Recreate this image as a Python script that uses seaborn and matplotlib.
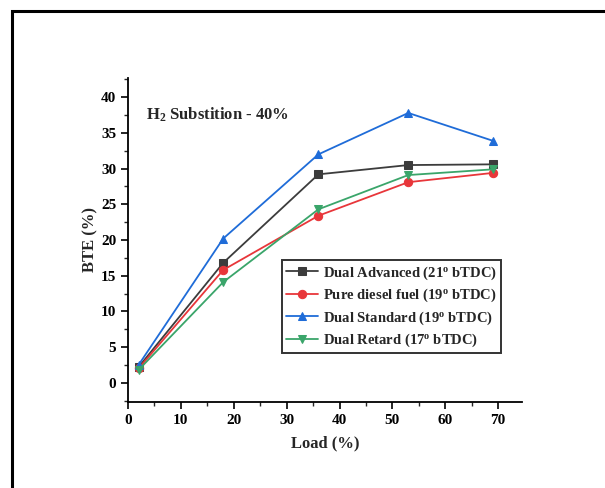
import numpy as np
import pandas as pd
import matplotlib
matplotlib.use('Agg')
import matplotlib.pyplot as plt
import seaborn as sns
from matplotlib.ticker import MultipleLocator
from matplotlib.patches import Rectangle

# data
load = [2, 18, 36, 53, 69]
dual_advanced = [2.2, 16.8, 29.2, 30.5, 30.6]
pure_diesel = [2.0, 15.8, 23.4, 28.1, 29.4]
dual_standard = [2.5, 20.2, 32.0, 37.8, 33.9]
dual_retard = [1.8, 14.1, 24.3, 29.1, 29.9]

labels = ['Dual Advanced (21$^{\\mathbf{o}}$ bTDC)',
          'Pure diesel fuel (19$^{\\mathbf{o}}$ bTDC)',
          'Dual Standard (19$^{\\mathbf{o}}$ bTDC)',
          'Dual Retard (17$^{\\mathbf{o}}$ bTDC)']
series = [dual_advanced, pure_diesel, dual_standard, dual_retard]
colors = ['#3c3c3c', '#e8363a', '#1f6cd8', '#3aa56a']
markers = ['s', 'o', '^', 'v']

sns.set_style('ticks')
plt.rcParams['font.family'] = ['Liberation Serif', 'DejaVu Serif']
plt.rcParams['font.weight'] = 'bold'
plt.rcParams['mathtext.fontset'] = 'custom'
plt.rcParams['mathtext.rm'] = 'Liberation Serif:bold'
plt.rcParams['mathtext.bf'] = 'Liberation Serif:bold'
plt.rcParams['mathtext.it'] = 'Liberation Serif:bold'

fig = plt.figure(figsize=(6.05, 4.88), dpi=100)
ax = fig.add_axes([0.2116, 0.1762, 0.6512, 0.664])

for lab, vals, c, m in zip(labels, series, colors, markers):
    sns.lineplot(x=load, y=vals, ax=ax, color=c, marker=m, markersize=6,
                 markeredgecolor=c, linewidth=1.3, label=lab)

ax.set_xlim(0, 74.5)
ax.set_ylim(-2.7, 42.7)
ax.xaxis.set_major_locator(MultipleLocator(10))
ax.xaxis.set_minor_locator(MultipleLocator(5))
ax.yaxis.set_major_locator(MultipleLocator(5))
ax.yaxis.set_minor_locator(MultipleLocator(2.5))
ax.tick_params(which='major', direction='out', length=5, width=1.2, labelsize=11, colors='black')
ax.tick_params(which='minor', direction='out', length=3, width=1.0)
for lbl in ax.get_xticklabels() + ax.get_yticklabels():
    lbl.set_fontweight('bold')

sns.despine(ax=ax)
for s in ['left', 'bottom']:
    ax.spines[s].set_linewidth(1.3)
    ax.spines[s].set_color('black')

ax.set_xlabel('Load (%)', fontsize=12, fontweight='bold', labelpad=6)
ax.set_ylabel('BTE (%)', fontsize=12, fontweight='bold', labelpad=2)

ax.text(0.045, 0.885, 'H$_{\\mathbf{2}}$ Substition - 40%', transform=ax.transAxes,
        fontsize=12, fontweight='bold', va='center', ha='left')

leg = ax.legend(loc='lower left', bbox_to_anchor=(0.39, 0.15), frameon=True,
                fancybox=False, edgecolor='black', fontsize=10.5,
                handlelength=2.2, handletextpad=0.3, borderpad=0.3,
                labelspacing=0.35, borderaxespad=0)
leg.get_frame().set_linewidth(1.4)
for t in leg.get_texts():
    t.set_fontweight('bold')

# outer frame around the figure (cropped on right/bottom)
fig.patches.append(Rectangle((12 / 605, -0.1), 1.2, 1 - 11 / 488 + 0.1,
                             transform=fig.transFigure, fill=False,
                             edgecolor='black', linewidth=2.2))

fig.savefig('out.png', dpi=100)
